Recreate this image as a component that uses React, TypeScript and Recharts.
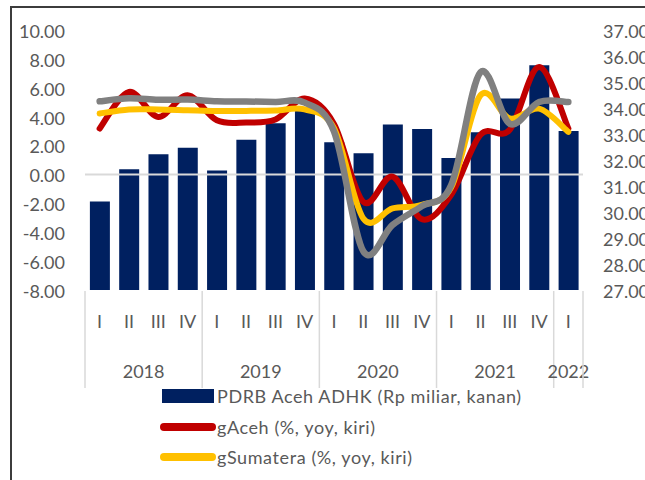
import React from 'react';
import { ComposedChart, Bar, Line, XAxis, YAxis, Legend, ReferenceLine } from 'recharts';

const quarters = ['I', 'II', 'III', 'IV', 'I', 'II', 'III', 'IV', 'I', 'II', 'III', 'IV', 'I', 'II', 'III', 'IV', 'I'];
const years = ['2018', '2018', '2018', '2018', '2019', '2019', '2019', '2019', '2020', '2020', '2020', '2020', '2021', '2021', '2021', '2021', '2022'];
const pdrb = [30.4, 31.64, 32.22, 32.47, 31.6, 32.78, 33.41, 33.95, 32.68, 32.26, 33.37, 33.19, 32.08, 33.07, 34.37, 35.64, 33.12];
const gAceh = [3.18, 5.71, 3.98, 5.48, 3.75, 3.6, 3.8, 5.25, 3.5, -1.9, -0.15, -3.1, -1.4, 2.75, 3.1, 7.44, 3.18];
const gSumatera = [4.22, 4.5, 4.5, 4.45, 4.4, 4.4, 4.42, 4.5, 3.2, -3.05, -2.35, -2.1, -0.9, 5.48, 3.87, 4.56, 2.95];
const gNasional = [5.06, 5.27, 5.17, 5.18, 5.07, 5.05, 5.02, 4.97, 2.97, -5.32, -3.49, -2.19, -0.74, 7.07, 3.51, 5.02, 5.01];
const leftTicks = [-8, -6, -4, -2, 0, 2, 4, 6, 8, 10];
const rightTicks = [27, 28, 29, 30, 31, 32, 33, 34, 35, 36, 37];

const seriesNames = {
  pdrb: 'PDRB Aceh ADHK (Rp miliar, kanan)',
  gAceh: 'gAceh (%, yoy, kiri)',
  gSumatera: 'gSumatera (%, yoy, kiri)',
  gNasional: 'gNasional (%, yoy, kiri)',
};

const data = quarters.map((q, i) => ({
  key: `${years[i]}-${q}`,
  pdrb: pdrb[i],
  gAceh: gAceh[i],
  gSumatera: gSumatera[i],
  gNasional: gNasional[i],
}));

const FONT = "Lato, 'Open Sans', sans-serif";
const TEXT = '#595959';
const DIVIDER = '#d9d9d9';

// Excel-like smoothed line (Catmull-Rom via cubic Bezier)
function excelCurve(context: any) {
  let pts: number[][] = [];
  return {
    areaStart() {},
    areaEnd() {},
    lineStart() {
      pts = [];
    },
    point(x: number, y: number) {
      pts.push([+x, +y]);
    },
    lineEnd() {
      const n = pts.length;
      if (!n) return;
      context.moveTo(pts[0][0], pts[0][1]);
      for (let i = 0; i < n - 1; i++) {
        const p0 = pts[i - 1] || pts[i];
        const p1 = pts[i];
        const p2 = pts[i + 1];
        const p3 = pts[i + 2] || pts[i + 1];
        const c1x = p1[0] + (p2[0] - p0[0]) / 6;
        const c1y = p1[1] + (p2[1] - p0[1]) / 6;
        const c2x = p2[0] - (p3[0] - p1[0]) / 6;
        const c2y = p2[1] - (p3[1] - p1[1]) / 6;
        context.bezierCurveTo(c1x, c1y, c2x, c2y, p2[0], p2[1]);
      }
    },
  };
}

function CategoryTick(props: any) {
  const { x, y, index, payload } = props;
  const i = typeof index === 'number' ? index : payload?.index ?? 0;
  const half = payload && typeof payload.offset === 'number' && payload.offset > 0 ? payload.offset : 14.65;
  const yr = years[i];
  const first = i === 0 || years[i - 1] !== yr;
  const last = i === quarters.length - 1;
  const count = years.filter((v) => v === yr).length;
  return (
    <g>
      <text x={x} y={y + 38} textAnchor="middle" fill={TEXT} fontSize={18} fontFamily={FONT}>
        {quarters[i]}
      </text>
      {first && <line x1={x - half} x2={x - half} y1={y + 1} y2={y + 98} stroke={DIVIDER} strokeWidth={1.5} />}
      {first && (
        <text x={x - half + count * half} y={y + 88} textAnchor="middle" fill={TEXT} fontSize={18} fontFamily={FONT}>
          {yr}
        </text>
      )}
      {last && <line x1={x + half} x2={x + half} y1={y + 1} y2={y + 98} stroke={DIVIDER} strokeWidth={1.5} />}
    </g>
  );
}

function LegendContent(props: any) {
  const items = (props.payload || []).filter((p: any) => p.type !== 'none' && p.dataKey !== 'gNasional');
  return (
    <div style={{ fontFamily: FONT, fontSize: 18, color: TEXT, letterSpacing: 0.6 }}>
      {items.map((p: any) => {
        const isBar = p.dataKey === 'pdrb';
        return (
          <div key={String(p.dataKey)} style={{ display: 'flex', alignItems: 'center', height: 30.5, whiteSpace: 'nowrap' }}>
            <div style={{ width: 59, display: 'flex', justifyContent: 'center', alignItems: 'center' }}>
              {isBar ? (
                <div style={{ width: 52, height: 14, background: p.color }} />
              ) : (
                <div style={{ width: 56, height: 8, borderRadius: 4, background: p.color }} />
              )}
            </div>
            <span>{p.value}</span>
          </div>
        );
      })}
    </div>
  );
}

export default function App() {
  return (
    <div style={{ position: 'fixed', left: 0, top: 0, width: 645, height: 480, overflow: 'hidden', background: '#fff' }}>
      <div
        style={{
          position: 'absolute',
          left: 10,
          top: 6,
          width: 700,
          height: 520,
          border: '2px solid #3c3c3c',
          boxSizing: 'border-box',
        }}
      />
      <div style={{ position: 'absolute', left: 0, top: 0 }}>
        <ComposedChart
          width={700}
          height={480}
          data={data}
          margin={{ top: 30, right: 57, bottom: 90, left: 0 }}
          barCategoryGap="16.7%"
        >
          <XAxis
            dataKey="key"
            xAxisId="x"
            interval={0}
            height={100}
            axisLine={false}
            tickLine={false}
            tickSize={0}
            tickMargin={0}
            tick={<CategoryTick />}
          />
          <YAxis
            yAxisId="left"
            orientation="left"
            type="number"
            domain={[-8, 10]}
            ticks={leftTicks}
            interval={0}
            width={85}
            axisLine={false}
            tickLine={false}
            tickSize={0}
            tickMargin={20}
            tickFormatter={(v: number) => v.toFixed(2)}
            tick={{ fill: TEXT, fontSize: 18, fontFamily: FONT, dy: 1.5 }}
          />
          <YAxis
            yAxisId="right"
            orientation="right"
            type="number"
            domain={[27, 37]}
            ticks={rightTicks}
            interval={0}
            width={60}
            axisLine={false}
            tickLine={false}
            tickSize={0}
            tickMargin={20}
            tickFormatter={(v: number) => v.toFixed(2)}
            tick={{ fill: TEXT, fontSize: 18, fontFamily: FONT, textAnchor: 'start', dy: 1.5 }}
          />
          <Bar
            xAxisId="x"
            yAxisId="right"
            dataKey="pdrb"
            name={seriesNames.pdrb}
            fill="#002060"
            isAnimationActive={false}
          />
          <ReferenceLine xAxisId="x" yAxisId="left" y={0} stroke={DIVIDER} strokeWidth={2} />
          <Line
            xAxisId="x"
            yAxisId="left"
            dataKey="gAceh"
            name={seriesNames.gAceh}
            type={excelCurve as any}
            stroke="#C00000"
            strokeWidth={6}
            strokeLinecap="round"
            dot={false}
            activeDot={false}
            isAnimationActive={false}
          />
          <Line
            xAxisId="x"
            yAxisId="left"
            dataKey="gSumatera"
            name={seriesNames.gSumatera}
            type={excelCurve as any}
            stroke="#FFC000"
            strokeWidth={6}
            strokeLinecap="round"
            dot={false}
            activeDot={false}
            isAnimationActive={false}
          />
          <Line
            xAxisId="x"
            yAxisId="left"
            dataKey="gNasional"
            name={seriesNames.gNasional}
            legendType="none"
            type={excelCurve as any}
            stroke="#808080"
            strokeWidth={6.5}
            strokeLinecap="round"
            dot={false}
            activeDot={false}
            isAnimationActive={false}
          />
          <Legend
            layout="horizontal"
            verticalAlign="middle"
            align="center"
            content={<LegendContent />}
            wrapperStyle={{ top: 381, left: 158, width: 440 }}
          />
        </ComposedChart>
      </div>
    </div>
  );
}
